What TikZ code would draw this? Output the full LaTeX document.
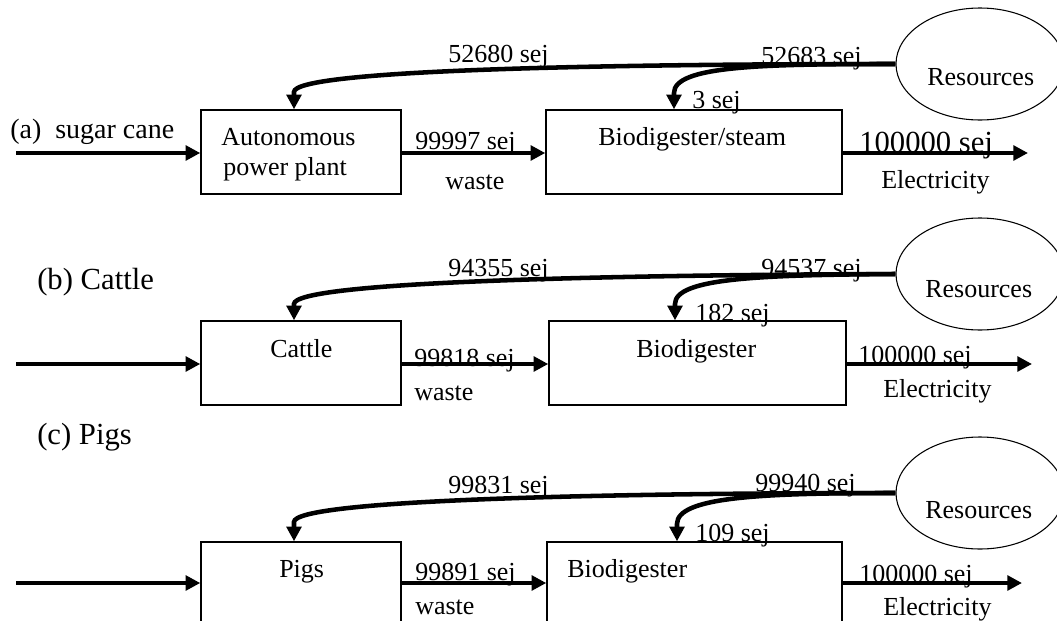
\documentclass[tikz,border=0pt]{standalone}
\usepackage{fontspec}
\setmainfont{Liberation Serif}
\usetikzlibrary{arrows.meta,shapes.geometric,fit}
\begin{document}
\begin{tikzpicture}[x=0.75pt,y=-0.75pt,
  flow/.style={line width=3.4pt,-{Triangle[length=11pt,width=11pt]}},
  feed/.style={line width=3.4pt,-{Triangle[length=11pt,width=11pt]}},
  box/.style={draw,line width=1.1pt,inner sep=0pt},
  res/.style={draw,ellipse,line width=0.8pt,minimum width=126pt,minimum height=84pt,inner sep=0pt},
  lbl/.style={anchor=base west,inner sep=0pt,font=\fontsize{19.5}{22}\selectfont},
  big/.style={anchor=base west,inner sep=0pt,font=\fontsize{23}{26}\selectfont},
  mid/.style={anchor=base west,inner sep=0pt,font=\fontsize{21}{24}\selectfont},
]
\useasboundingbox (0,0) rectangle (1057,621);
\clip (0,0) rectangle (1057,621);

% ---------------- Row (a)
\node[box, fit={(201,110)(401,194)}] (p1a) {};
\node[box, fit={(546,110)(842,194)}] (p2a) {};
\node[res] (ra) at (980,64) {};
\coordinate (ina) at (16,153);
\coordinate (outa) at (1028,153);
\coordinate (xa1) at (294,0);
\coordinate (xa2) at (674,0);
\draw[flow] (ina) -- (ina -| p1a.west);
\draw[flow] (p1a.east |- ina) -- (p2a.west |- ina);
\draw[flow] (p2a.east |- ina) -- (outa);
\draw[feed] (ra.west) .. controls (600,64) and (294,70) .. (294,92) -- (xa1 |- p1a.north);
\draw[feed] (ra.west) .. controls (760,64) and (674,66) .. (674,93) -- (xa2 |- p2a.north);
\node[lbl] (tra) at (927,85) {Resources};
\node[mid] (la) at (10,138.5) {(a)\ \ sugar cane};
\node[lbl] (t1a) at (221,145) {Autonomous};
\node[lbl] (t1b) at (223,175) {power plant};
\node[lbl] (t2a) at (598,145) {Biodigester/steam};
\node[lbl] (wa1) at (415,149) {99997 sej};
\node[lbl] (wa2) at (445,189) {waste};
\node[big] (ea1) at (859,152) {100000 sej};
\node[lbl] (ea2) at (881,188) {Electricity};
\node[lbl] (fa1) at (448,62.5) {52680 sej};
\node[lbl] (fa2) at (761,64) {52683 sej};
\node[lbl] (fa3) at (692,108) {3 sej};

% ---------------- Row (b)
\node[box, fit={(201,321)(401,405)}] (p1b) {};
\node[box, fit={(549,321)(846,405)}] (p2b) {};
\node[res] (rb) at (980,274) {};
\coordinate (inb) at (16,364);
\coordinate (outb) at (1032,364);
\coordinate (xb1) at (294,0);
\coordinate (xb2) at (675,0);
\draw[flow] (inb) -- (inb -| p1b.west);
\draw[flow] (p1b.east |- inb) -- (p2b.west |- inb);
\draw[flow] (p2b.east |- inb) -- (outb);
\draw[feed] (rb.west) .. controls (600,275) and (294,282) .. (294,304) -- (xb1 |- p1b.north);
\draw[feed] (rb.west) .. controls (760,275) and (675,278) .. (675,304) -- (xb2 |- p2b.north);
\node[lbl] (trb) at (925,297.5) {Resources};
\node[big] (lb) at (37,289) {(b) Cattle};
\node[lbl] (t1bb) at (270,357) {Cattle};
\node[lbl] (t2b) at (636,357) {Biodigester};
\node[lbl] (wb1) at (414,366.5) {99818 sej};
\node[lbl] (wb2) at (414,400) {waste};
\node[lbl] (eb1) at (858,363) {100000 sej};
\node[lbl] (eb2) at (883,397) {Electricity};
\node[lbl] (fb1) at (448,276) {94355 sej};
\node[lbl] (fb2) at (761,276) {94537 sej};
\node[lbl] (fb3) at (695,321) {182 sej};

% ---------------- Row (c)
\node[box, fit={(201,542)(401,624)}] (p1c) {};
\node[box, fit={(547,542)(842,624)}] (p2c) {};
\node[res] (rc) at (980,493) {};
\coordinate (inc) at (16,583);
\coordinate (outc) at (1022,583);
\coordinate (xc1) at (294,0);
\coordinate (xc2) at (677,0);
\draw[flow] (inc) -- (inc -| p1c.west);
\draw[flow] (p1c.east |- inc) -- (p2c.west |- inc);
\draw[flow] (p2c.east |- inc) -- (outc);
\draw[feed] (rc.west) .. controls (600,493) and (294,500) .. (294,522) -- (xc1 |- p1c.north);
\draw[feed] (rc.west) .. controls (760,493) and (677,497) .. (677,524) -- (xc2 |- p2c.north);
\node[lbl] (trc) at (925,518) {Resources};
\node[big] (lc) at (37,444) {(c) Pigs};
\node[lbl] (t1c) at (279,577) {Pigs};
\node[lbl] (t2c) at (567,577) {Biodigester};
\node[lbl] (wc1) at (415,580) {99891 sej};
\node[lbl] (wc2) at (415,614) {waste};
\node[lbl] (ec1) at (859,582) {100000 sej};
\node[lbl] (ec2) at (883,615) {Electricity};
\node[lbl] (fc1) at (448,493) {99831 sej};
\node[lbl] (fc2) at (755,491) {99940 sej};
\node[lbl] (fc3) at (695,541.5) {109 sej};
\end{tikzpicture}
\end{document}
